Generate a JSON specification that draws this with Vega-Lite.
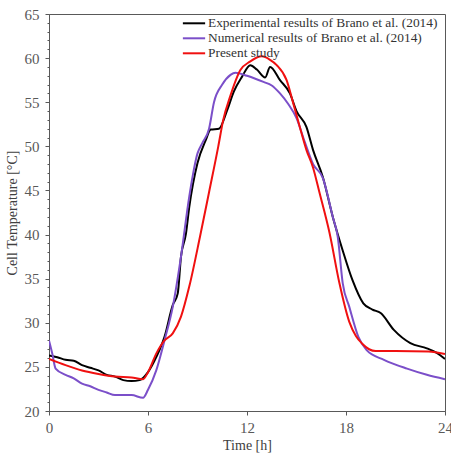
{
  "$schema": "https://vega.github.io/schema/vega-lite/v6.json",
  "width": 396,
  "height": 397,
  "autosize": {"type": "none"},
  "padding": {"left": 49, "top": 14, "right": 6, "bottom": 42},
  "background": "white",
  "config": {
    "view": {"stroke": "#595959", "strokeWidth": 1},
    "font": "Liberation Serif",
    "axis": {
      "labelFont": "Liberation Serif",
      "titleFont": "Liberation Serif",
      "labelColor": "#595959",
      "titleColor": "#404040",
      "domainColor": "#595959",
      "tickColor": "#595959",
      "labelFontSize": 15,
      "titleFontSize": 14,
      "titleFontWeight": "normal",
      "grid": false
    }
  },
  "data": {
    "values": [
      {"s": "Experimental results of Brano et al. (2014)", "t": 0, "v": 26.3},
      {"s": "Experimental results of Brano et al. (2014)", "t": 0.5, "v": 26.1},
      {"s": "Experimental results of Brano et al. (2014)", "t": 1, "v": 25.8},
      {"s": "Experimental results of Brano et al. (2014)", "t": 1.5, "v": 25.7},
      {"s": "Experimental results of Brano et al. (2014)", "t": 2, "v": 25.2},
      {"s": "Experimental results of Brano et al. (2014)", "t": 2.5, "v": 24.9},
      {"s": "Experimental results of Brano et al. (2014)", "t": 3, "v": 24.6},
      {"s": "Experimental results of Brano et al. (2014)", "t": 3.5, "v": 24.1},
      {"s": "Experimental results of Brano et al. (2014)", "t": 4, "v": 23.9},
      {"s": "Experimental results of Brano et al. (2014)", "t": 4.5, "v": 23.5},
      {"s": "Experimental results of Brano et al. (2014)", "t": 5, "v": 23.4},
      {"s": "Experimental results of Brano et al. (2014)", "t": 5.5, "v": 23.5},
      {"s": "Experimental results of Brano et al. (2014)", "t": 6, "v": 24.4},
      {"s": "Experimental results of Brano et al. (2014)", "t": 6.5, "v": 26.1},
      {"s": "Experimental results of Brano et al. (2014)", "t": 7, "v": 28.4},
      {"s": "Experimental results of Brano et al. (2014)", "t": 7.5, "v": 32.0},
      {"s": "Experimental results of Brano et al. (2014)", "t": 7.8, "v": 33.3},
      {"s": "Experimental results of Brano et al. (2014)", "t": 8, "v": 37.5},
      {"s": "Experimental results of Brano et al. (2014)", "t": 8.3, "v": 40.1},
      {"s": "Experimental results of Brano et al. (2014)", "t": 8.5, "v": 43.1},
      {"s": "Experimental results of Brano et al. (2014)", "t": 9, "v": 48.1},
      {"s": "Experimental results of Brano et al. (2014)", "t": 9.5, "v": 50.7},
      {"s": "Experimental results of Brano et al. (2014)", "t": 9.8, "v": 51.9},
      {"s": "Experimental results of Brano et al. (2014)", "t": 10.3, "v": 52.0},
      {"s": "Experimental results of Brano et al. (2014)", "t": 10.8, "v": 54.1},
      {"s": "Experimental results of Brano et al. (2014)", "t": 11.2, "v": 56.2},
      {"s": "Experimental results of Brano et al. (2014)", "t": 11.7, "v": 57.9},
      {"s": "Experimental results of Brano et al. (2014)", "t": 12.2, "v": 59.2},
      {"s": "Experimental results of Brano et al. (2014)", "t": 12.6, "v": 58.7},
      {"s": "Experimental results of Brano et al. (2014)", "t": 13.1, "v": 57.8},
      {"s": "Experimental results of Brano et al. (2014)", "t": 13.4, "v": 59.0},
      {"s": "Experimental results of Brano et al. (2014)", "t": 14, "v": 57.5},
      {"s": "Experimental results of Brano et al. (2014)", "t": 14.6, "v": 56.0},
      {"s": "Experimental results of Brano et al. (2014)", "t": 15, "v": 54.0},
      {"s": "Experimental results of Brano et al. (2014)", "t": 15.6, "v": 52.2},
      {"s": "Experimental results of Brano et al. (2014)", "t": 16, "v": 49.6},
      {"s": "Experimental results of Brano et al. (2014)", "t": 16.6, "v": 46.5},
      {"s": "Experimental results of Brano et al. (2014)", "t": 17.2, "v": 42.0},
      {"s": "Experimental results of Brano et al. (2014)", "t": 17.8, "v": 38.2},
      {"s": "Experimental results of Brano et al. (2014)", "t": 18.4, "v": 34.8},
      {"s": "Experimental results of Brano et al. (2014)", "t": 19.05, "v": 32.2},
      {"s": "Experimental results of Brano et al. (2014)", "t": 19.6, "v": 31.5},
      {"s": "Experimental results of Brano et al. (2014)", "t": 20.1, "v": 31.1},
      {"s": "Experimental results of Brano et al. (2014)", "t": 20.9, "v": 29.2},
      {"s": "Experimental results of Brano et al. (2014)", "t": 21.9, "v": 27.7},
      {"s": "Experimental results of Brano et al. (2014)", "t": 22.9, "v": 27.1},
      {"s": "Experimental results of Brano et al. (2014)", "t": 23.5, "v": 26.6},
      {"s": "Experimental results of Brano et al. (2014)", "t": 24, "v": 25.9},

      {"s": "Numerical results of Brano et al. (2014)", "t": 0, "v": 28.0},
      {"s": "Numerical results of Brano et al. (2014)", "t": 0.2, "v": 26.5},
      {"s": "Numerical results of Brano et al. (2014)", "t": 0.4, "v": 24.8},
      {"s": "Numerical results of Brano et al. (2014)", "t": 1, "v": 24.1},
      {"s": "Numerical results of Brano et al. (2014)", "t": 1.5, "v": 23.7},
      {"s": "Numerical results of Brano et al. (2014)", "t": 2, "v": 23.1},
      {"s": "Numerical results of Brano et al. (2014)", "t": 2.5, "v": 22.8},
      {"s": "Numerical results of Brano et al. (2014)", "t": 3, "v": 22.4},
      {"s": "Numerical results of Brano et al. (2014)", "t": 3.5, "v": 22.1},
      {"s": "Numerical results of Brano et al. (2014)", "t": 4, "v": 21.8},
      {"s": "Numerical results of Brano et al. (2014)", "t": 5, "v": 21.8},
      {"s": "Numerical results of Brano et al. (2014)", "t": 5.7, "v": 21.5},
      {"s": "Numerical results of Brano et al. (2014)", "t": 6, "v": 22.4},
      {"s": "Numerical results of Brano et al. (2014)", "t": 6.5, "v": 24.6},
      {"s": "Numerical results of Brano et al. (2014)", "t": 7, "v": 28.0},
      {"s": "Numerical results of Brano et al. (2014)", "t": 7.5, "v": 31.8},
      {"s": "Numerical results of Brano et al. (2014)", "t": 8, "v": 37.5},
      {"s": "Numerical results of Brano et al. (2014)", "t": 8.5, "v": 44.3},
      {"s": "Numerical results of Brano et al. (2014)", "t": 9, "v": 49.2},
      {"s": "Numerical results of Brano et al. (2014)", "t": 9.3, "v": 50.4},
      {"s": "Numerical results of Brano et al. (2014)", "t": 9.7, "v": 52.0},
      {"s": "Numerical results of Brano et al. (2014)", "t": 10, "v": 55.0},
      {"s": "Numerical results of Brano et al. (2014)", "t": 10.5, "v": 57.0},
      {"s": "Numerical results of Brano et al. (2014)", "t": 11, "v": 58.1},
      {"s": "Numerical results of Brano et al. (2014)", "t": 11.3, "v": 58.35},
      {"s": "Numerical results of Brano et al. (2014)", "t": 12, "v": 58.0},
      {"s": "Numerical results of Brano et al. (2014)", "t": 13, "v": 57.3},
      {"s": "Numerical results of Brano et al. (2014)", "t": 13.5, "v": 56.9},
      {"s": "Numerical results of Brano et al. (2014)", "t": 14, "v": 56.0},
      {"s": "Numerical results of Brano et al. (2014)", "t": 14.5, "v": 54.8},
      {"s": "Numerical results of Brano et al. (2014)", "t": 15, "v": 53.2},
      {"s": "Numerical results of Brano et al. (2014)", "t": 15.5, "v": 50.5},
      {"s": "Numerical results of Brano et al. (2014)", "t": 16, "v": 48.0},
      {"s": "Numerical results of Brano et al. (2014)", "t": 16.6, "v": 46.4},
      {"s": "Numerical results of Brano et al. (2014)", "t": 17.2, "v": 42.0},
      {"s": "Numerical results of Brano et al. (2014)", "t": 17.5, "v": 39.75},
      {"s": "Numerical results of Brano et al. (2014)", "t": 17.8, "v": 34.5},
      {"s": "Numerical results of Brano et al. (2014)", "t": 18.2, "v": 31.8},
      {"s": "Numerical results of Brano et al. (2014)", "t": 18.75, "v": 28.4},
      {"s": "Numerical results of Brano et al. (2014)", "t": 19.25, "v": 26.9},
      {"s": "Numerical results of Brano et al. (2014)", "t": 20.3, "v": 25.8},
      {"s": "Numerical results of Brano et al. (2014)", "t": 21.7, "v": 24.8},
      {"s": "Numerical results of Brano et al. (2014)", "t": 22.9, "v": 24.1},
      {"s": "Numerical results of Brano et al. (2014)", "t": 24, "v": 23.6},

      {"s": "Present study", "t": 0, "v": 25.9},
      {"s": "Present study", "t": 1, "v": 25.2},
      {"s": "Present study", "t": 2, "v": 24.6},
      {"s": "Present study", "t": 3, "v": 24.2},
      {"s": "Present study", "t": 4, "v": 23.9},
      {"s": "Present study", "t": 5, "v": 23.8},
      {"s": "Present study", "t": 5.7, "v": 23.6},
      {"s": "Present study", "t": 6, "v": 24.4},
      {"s": "Present study", "t": 6.5, "v": 26.5},
      {"s": "Present study", "t": 7, "v": 28.0},
      {"s": "Present study", "t": 7.5, "v": 28.8},
      {"s": "Present study", "t": 8, "v": 30.7},
      {"s": "Present study", "t": 8.5, "v": 34.1},
      {"s": "Present study", "t": 9.15, "v": 39.75},
      {"s": "Present study", "t": 9.7, "v": 44.8},
      {"s": "Present study", "t": 10.26, "v": 50.0},
      {"s": "Present study", "t": 10.56, "v": 53.0},
      {"s": "Present study", "t": 10.97, "v": 55.6},
      {"s": "Present study", "t": 11.6, "v": 58.65},
      {"s": "Present study", "t": 12.18, "v": 59.6},
      {"s": "Present study", "t": 12.9, "v": 60.2},
      {"s": "Present study", "t": 13.4, "v": 59.8},
      {"s": "Present study", "t": 13.8, "v": 59.2},
      {"s": "Present study", "t": 14.4, "v": 57.5},
      {"s": "Present study", "t": 14.8, "v": 54.9},
      {"s": "Present study", "t": 15.2, "v": 52.2},
      {"s": "Present study", "t": 15.6, "v": 49.6},
      {"s": "Present study", "t": 16.0, "v": 47.6},
      {"s": "Present study", "t": 16.4, "v": 44.7},
      {"s": "Present study", "t": 17.0, "v": 40.2},
      {"s": "Present study", "t": 17.6, "v": 34.5},
      {"s": "Present study", "t": 18.2, "v": 30.1},
      {"s": "Present study", "t": 18.6, "v": 28.5},
      {"s": "Present study", "t": 19.0, "v": 27.6},
      {"s": "Present study", "t": 19.4, "v": 27.0},
      {"s": "Present study", "t": 19.8, "v": 26.8},
      {"s": "Present study", "t": 21, "v": 26.8},
      {"s": "Present study", "t": 23, "v": 26.75},
      {"s": "Present study", "t": 24, "v": 26.45}
    ]
  },
  "mark": {"type": "line", "strokeWidth": 2, "interpolate": "monotone", "clip": true},
  "encoding": {
    "x": {
      "field": "t", "type": "quantitative", "title": "Time [h]",
      "scale": {"domain": [0, 24], "nice": false},
      "axis": {"values": [0, 6, 12, 18, 24], "tickSize": 4, "labelPadding": 5, "titlePadding": 3, "labelFlush": false}
    },
    "y": {
      "field": "v", "type": "quantitative", "title": "Cell Temperature [°C]",
      "scale": {"domain": [20, 65], "nice": false, "zero": false},
      "axis": {
        "values": [20,21,22,23,24,25,26,27,28,29,30,31,32,33,34,35,36,37,38,39,40,41,42,43,44,45,46,47,48,49,50,51,52,53,54,55,56,57,58,59,60,61,62,63,64,65],
        "labelExpr": "datum.value % 5 === 0 ? datum.label : ''",
        "tickSize": {"condition": {"test": "datum.value % 5 === 0", "value": 4}, "value": 2},
        "labelPadding": 6,
        "titlePadding": 5,
        "labelFlush": false
      }
    },
    "color": {
      "field": "s", "type": "nominal",
      "scale": {
        "domain": ["Experimental results of Brano et al. (2014)", "Numerical results of Brano et al. (2014)", "Present study"],
        "range": ["#000000", "#7B4FC9", "#F01010"]
      },
      "legend": {
        "title": null,
        "orient": "none",
        "legendX": 137,
        "legendY": 1.3,
        "symbolType": "M-1.65,0H1.65",
        "symbolSize": 182,
        "symbolStrokeWidth": 2,
        "labelFont": "Liberation Serif",
        "labelFontSize": 13.4,
        "labelColor": "#333333",
        "labelOffset": 6,
        "rowPadding": 0,
        "labelLimit": 400
      }
    }
  }
}
